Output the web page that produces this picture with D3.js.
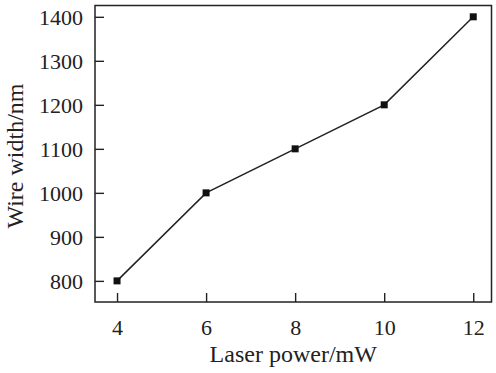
<!DOCTYPE html>
<html>
<head>
<meta charset="utf-8">
<script src="https://cdn.jsdelivr.net/npm/d3@7"></script>
<style>
  body { margin: 0; background: #fff; }
  text { font-family: "Liberation Serif", "Times New Roman", serif; fill: #222; }
</style>
</head>
<body>
<script>
// Data
var power = [4, 6, 8, 10, 12];
var wireWidth = [800, 1000, 1100, 1200, 1400];
var xTicks = [4, 6, 8, 10, 12];
var yTicks = [800, 900, 1000, 1100, 1200, 1300, 1400];

var W = 496, H = 373;
var mLeft = 95, mRight = 491.5, mTop = 5.5, mBottom = 302;

var x = d3.scaleLinear().domain([3.505, 12.41]).range([mLeft, mRight]);
var y = d3.scaleLinear().domain([752, 1425.7]).range([mBottom, mTop]);

var svg = d3.select("body").append("svg").attr("width", W).attr("height", H);

// Aksen
var xAxis = d3.axisBottom(x).tickValues(xTicks).tickSizeInner(-9).tickSizeOuter(0).tickPadding(17).tickFormat(d3.format("d"));
var yAxis = d3.axisLeft(y).tickValues(yTicks).tickSizeInner(-9).tickSizeOuter(0).tickPadding(12).tickFormat(d3.format("d"));

var gx = svg.append("g").attr("transform", "translate(0," + mBottom + ")").call(xAxis);
var gy = svg.append("g").attr("transform", "translate(" + mLeft + ",0)").call(yAxis);

[gx, gy].forEach(function(g) {
  g.select(".domain").remove();
  g.selectAll(".tick line").attr("stroke", "#222").attr("stroke-width", 1.4);
  g.selectAll(".tick text").attr("font-size", 22).attr("fill", "#222")
    .style("font-family", "'Liberation Serif', serif");
});
gy.selectAll(".tick text").attr("dy", "0.34em");

// Ramme
svg.append("rect")
  .attr("x", mLeft).attr("y", mTop)
  .attr("width", mRight - mLeft).attr("height", mBottom - mTop)
  .attr("fill", "none").attr("stroke", "#222").attr("stroke-width", 1.5);

// Linje
var pts = power.map(function(p, i) { return [p, wireWidth[i]]; });
svg.append("path")
  .datum(pts)
  .attr("fill", "none")
  .attr("stroke", "#222")
  .attr("stroke-width", 1.5)
  .attr("d", d3.line().x(function(d) { return x(d[0]); }).y(function(d) { return y(d[1]); }));

// Punkter
svg.selectAll(".pt")
  .data(pts)
  .enter()
  .append("rect")
  .attr("class", "pt")
  .attr("x", function(d) { return x(d[0]) - 3.5; })
  .attr("y", function(d) { return y(d[1]) - 3.5; })
  .attr("width", 7).attr("height", 7)
  .attr("fill", "#111");

// Akse-titler
svg.append("text")
  .attr("x", (mLeft + mRight) / 2)
  .attr("y", 362)
  .attr("text-anchor", "middle")
  .attr("font-size", 24)
  .text("Laser power/mW");

svg.append("text")
  .attr("transform", "translate(23," + 156 + ") rotate(-90)")
  .attr("text-anchor", "middle")
  .attr("font-size", 24)
  .text("Wire width/nm");
</script>
</body>
</html>
